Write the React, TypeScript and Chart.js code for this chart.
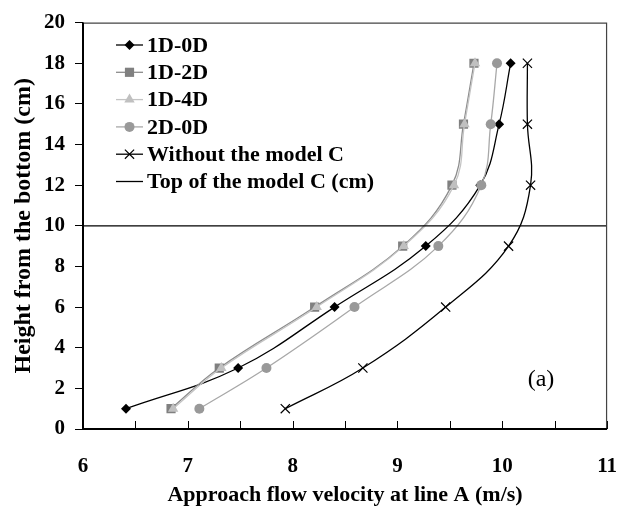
import React, { useEffect, useRef } from 'react';
import { Chart, registerables } from 'chart.js';
import { drawPoint } from 'chart.js/helpers';

Chart.register(...registerables);

// ---- data ----
const heights = [1, 3, 6, 9, 12, 15, 18];
const v1D0D = [6.41, 7.48, 8.4, 9.27, 9.79, 9.97, 10.08];
const v1D2D = [6.84, 7.3, 8.21, 9.05, 9.52, 9.63, 9.73];
const v1D4D = [6.86, 7.32, 8.23, 9.06, 9.54, 9.64, 9.74];
const v2D0D = [7.11, 7.75, 8.59, 9.39, 9.8, 9.89, 9.95];
const vWithout = [7.93, 8.67, 9.46, 10.06, 10.27, 10.24, 10.24];
const topOfModelX = [6, 11];
const topOfModelY = 10;

const xMin = 6;
const xMax = 11;
const yMin = 0;
const yMax = 20;
const xLabelStep = 1;
const xTickStep = 0.5;
const yTickStep = 2;

const seriesNames = ['1D-0D', '1D-2D', '1D-4D', '2D-0D', 'Without the model C', 'Top of the model C (cm)'];

const FONT = '"Liberation Serif", "Times New Roman", Times, serif';

type Style = {
  line: string;
  fill: string;
  border: string;
  pointStyle: any;
  radius: number;
  pbw: number;
  lw: number;
};

const styles: Style[] = [
  { line: '#000000', fill: '#000000', border: '#000000', pointStyle: 'rectRot', radius: 5, pbw: 0, lw: 1.3 },
  { line: '#8c8c8c', fill: '#808080', border: '#808080', pointStyle: 'rect', radius: 6.5, pbw: 0, lw: 1.3 },
  { line: '#c4c4c4', fill: '#c0c0c0', border: '#c0c0c0', pointStyle: 'triangle', radius: 6, pbw: 0, lw: 1.3 },
  { line: '#a8a8a8', fill: '#999999', border: '#999999', pointStyle: 'circle', radius: 5, pbw: 0, lw: 1.3 },
  { line: '#000000', fill: '#000000', border: '#000000', pointStyle: 'crossRot', radius: 6.5, pbw: 1.2, lw: 1.3 },
  { line: '#000000', fill: '#000000', border: '#000000', pointStyle: false, radius: 0, pbw: 0, lw: 1.3 },
];

const toPts = (xs: number[], ys: number[]) => xs.map((x, i) => ({ x, y: ys[i] }));

const boxPlugin = {
  id: 'boxAndLegend',
  afterDraw(chart: any) {
    const { ctx, chartArea } = chart;
    const { left, right, top, bottom } = chartArea;
    const xs = chart.scales.x;
    ctx.save();
    // inside x ticks
    ctx.strokeStyle = '#000';
    ctx.lineWidth = 1;
    for (let v = xMin + xTickStep; v <= xMax + 1e-9; v += xTickStep) {
      const px = Math.round(xs.getPixelForValue(v)) + 0.5;
      ctx.beginPath();
      ctx.moveTo(px, bottom);
      ctx.lineTo(px, bottom - 8);
      ctx.stroke();
    }
    // top & right border
    ctx.strokeStyle = '#444';
    ctx.lineWidth = 1.2;
    ctx.beginPath();
    ctx.moveTo(left, top + 0.5);
    ctx.lineTo(right - 0.5, top + 0.5);
    ctx.lineTo(right - 0.5, bottom);
    ctx.stroke();
    // left & bottom axes
    ctx.strokeStyle = '#000';
    ctx.lineWidth = 2;
    ctx.beginPath();
    ctx.moveTo(left, top);
    ctx.lineTo(left, bottom);
    ctx.lineTo(right, bottom);
    ctx.stroke();

    // legend
    const rowY0 = 45;
    const rowH = 27.3;
    const lx0 = 116;
    const lx1 = 143;
    const mx = 129.5;
    ctx.font = `bold 22px ${FONT}`;
    ctx.textBaseline = 'middle';
    ctx.textAlign = 'left';
    seriesNames.forEach((name, i) => {
      const s = styles[i];
      const y = rowY0 + i * rowH;
      ctx.strokeStyle = s.line;
      ctx.lineWidth = s.lw;
      ctx.beginPath();
      ctx.moveTo(lx0, y);
      ctx.lineTo(lx1, y);
      ctx.stroke();
      if (s.pointStyle) {
        ctx.fillStyle = s.fill;
        ctx.strokeStyle = s.border;
        ctx.lineWidth = s.pbw;
        drawPoint(ctx, { pointStyle: s.pointStyle, rotation: 0, radius: s.radius, borderWidth: s.pbw } as any, mx, y);
      }
      ctx.fillStyle = '#000';
      ctx.fillText(name, 147, y + 1);
    });

    // (a)
    ctx.font = `24px ${FONT}`;
    ctx.textAlign = 'center';
    ctx.fillStyle = '#000';
    ctx.fillText('(a)', 541, 380);
    ctx.restore();
  },
};

export default function App() {
  const ref = useRef<HTMLCanvasElement | null>(null);
  useEffect(() => {
    if (!ref.current) return;
    const seriesX = [v1D0D, v1D2D, v1D4D, v2D0D, vWithout];
    const datasets: any[] = seriesX.map((xs, i) => {
      const s = styles[i];
      return {
        label: seriesNames[i],
        data: toPts(xs, heights),
        borderColor: s.line,
        borderWidth: s.lw,
        backgroundColor: s.fill,
        pointStyle: s.pointStyle,
        pointRadius: s.radius,
        pointBackgroundColor: s.fill,
        pointBorderColor: s.border,
        pointBorderWidth: s.pbw,
        tension: 0.4,
        fill: false,
        order: 10 - i,
      };
    });
    datasets.push({
      label: seriesNames[5],
      data: topOfModelX.map((x) => ({ x, y: topOfModelY })),
      borderColor: '#000',
      borderWidth: 1.3,
      pointRadius: 0,
      tension: 0,
      fill: false,
      order: 1,
    });

    const chart = new Chart(ref.current, {
      type: 'line',
      data: { datasets },
      plugins: [boxPlugin],
      options: {
        responsive: false,
        animation: false,
        layout: { padding: { top: 17, right: 24, left: 0, bottom: 0 } },
        plugins: { legend: { display: false }, tooltip: { enabled: false } },
        scales: {
          x: {
            type: 'linear',
            min: xMin,
            max: xMax,
            afterFit: (s: any) => {
              s.height = 84;
            },
            border: { display: false },
            grid: { display: false, drawTicks: false },
            ticks: {
              stepSize: xTickStep,
              autoSkip: false,
              maxRotation: 0,
              padding: 25,
              color: '#000',
              font: { family: FONT, size: 21, weight: 'bold' },
              callback: (v: any) => (Math.abs(v / xLabelStep - Math.round(v / xLabelStep)) < 1e-6 ? String(v) : ''),
            },
            title: {
              display: true,
              text: 'Approach flow velocity at line A (m/s)',
              color: '#000',
              font: { family: FONT, size: 22, weight: 'bold' },
              padding: { top: 0, bottom: 4 },
            },
          },
          y: {
            type: 'linear',
            min: yMin,
            max: yMax,
            afterFit: (s: any) => {
              s.width = 83;
            },
            border: { display: false },
            grid: { drawOnChartArea: false, drawTicks: true, tickLength: 8, color: '#000', lineWidth: 1 },
            ticks: {
              stepSize: yTickStep,
              padding: 10,
              color: '#000',
              font: { family: FONT, size: 21, weight: 'bold' },
            },
            title: {
              display: true,
              text: 'Height from the bottom (cm)',
              color: '#000',
              font: { family: FONT, size: 24, weight: 'bold' },
              padding: { top: 9, bottom: 0 },
            },
          },
        },
      } as any,
    });
    return () => chart.destroy();
  }, []);
  return (
    <canvas
      ref={ref}
      width={642}
      height={513}
      style={{ position: 'fixed', left: 0, top: 0, width: 642, height: 513, background: '#fff' }}
    />
  );
}
